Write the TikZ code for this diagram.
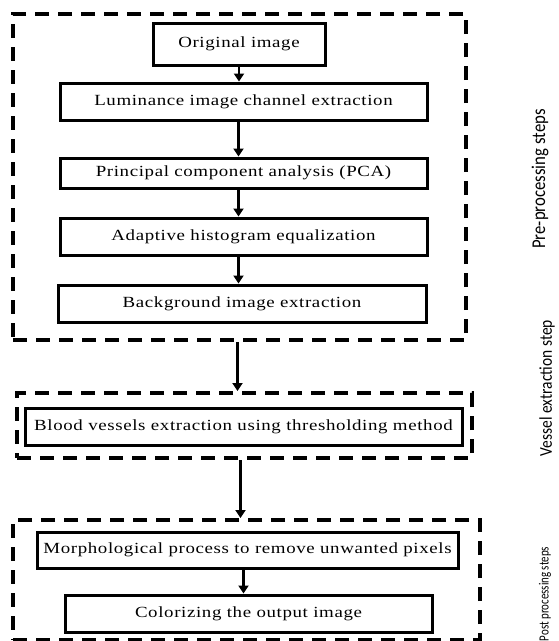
\documentclass[tikz,border=0pt]{standalone}
\usepackage{fontspec}
\setmainfont{Liberation Serif}
\newfontfamily\boxfont[FakeStretch=1.22,LetterSpace=4]{Liberation Serif}
\newfontfamily\sidefont[FakeStretch=0.86]{Carlito}
\newfontfamily\postfont[FakeStretch=0.78]{Carlito}
\usetikzlibrary{arrows.meta,positioning}

\begin{document}
\begin{tikzpicture}[x=1pt,y=-1pt,font=\boxfont\fontsize{15.5}{17}\selectfont,
  >={Triangle[length=8pt,width=10pt]},
  stepbox/.style={draw,line width=3pt,inner sep=0pt},
  groupbox/.style={draw,line width=4pt,dash pattern=on 14pt off 9pt,inner sep=0pt},
  flow/.style={->,line width=2.4pt},
  sidelabel/.style={rotate=90}]
\useasboundingbox (0,0) rectangle (558,641);
% pre-processing group
\node[groupbox,minimum width=453pt,minimum height=326pt] (pre) at (239.5,177) {};
\node[stepbox,minimum width=172pt,minimum height=42pt] (orig) at (239,44) {Original image};
\node[stepbox,minimum width=367pt,minimum height=37pt] (lum) at (243.5,101.5) {Luminance image channel extraction};
\node[stepbox,minimum width=367pt,minimum height=30pt] (pca) at (243.5,173) {Principal component analysis (PCA)};
\node[stepbox,minimum width=367pt,minimum height=37pt] (ahe) at (243.5,236.5) {Adaptive histogram equalization};
\node[stepbox,minimum width=368pt,minimum height=37pt] (bg) at (242,303.5) {Background image extraction};
% vessel extraction group
\node[groupbox,minimum width=455pt,minimum height=65pt] (ves) at (244.5,425.5) {};
\node[stepbox,minimum width=437pt,minimum height=37pt] (blood) at (243.5,426.5) {Blood vessels extraction using thresholding method};
% post-processing group
\node[groupbox,minimum width=467pt,minimum height=120pt] (post) at (246.5,580) {};
\node[stepbox,minimum width=421pt,minimum height=36pt] (morph) at (247.5,550) {Morphological process to remove unwanted pixels};
\node[stepbox,minimum width=367pt,minimum height=37pt] (col) at (248.5,613.5) {Colorizing the output image};
% arrows
\draw[flow] (orig.south) -- (orig.south |- lum.north);
\draw[flow] ([xshift=-5pt]lum.south) -- ([xshift=-5pt]lum.south |- pca.north);
\draw[flow] ([xshift=-5pt]pca.south) -- ([xshift=-5pt]pca.south |- ahe.north);
\draw[flow] ([xshift=-5pt]ahe.south) -- ([xshift=-5pt]ahe.south |- bg.north);
\draw[flow,line width=3.6pt] ([xshift=-2pt]pre.south) -- ([xshift=-2pt]pre.south |- ves.north);
\draw[flow,line width=3pt] ([xshift=-4pt]ves.south) -- ([xshift=-4pt]ves.south |- post.north);
\draw[flow] ([xshift=-4pt]morph.south) -- ([xshift=-4pt]morph.south |- col.north);
% side labels
\node[sidelabel,font=\sidefont\fontsize{19.5}{21}\selectfont] (prelab) at (540,179) {Pre-processing steps};
\node[sidelabel,font=\sidefont\fontsize{18}{20}\selectfont] (veslab) at (547,388) {Vessel extraction step};
\node[sidelabel,font=\postfont\fontsize{14}{15}\selectfont] (postlab) at (545,594) {Post processing steps};
\end{tikzpicture}
\end{document}
